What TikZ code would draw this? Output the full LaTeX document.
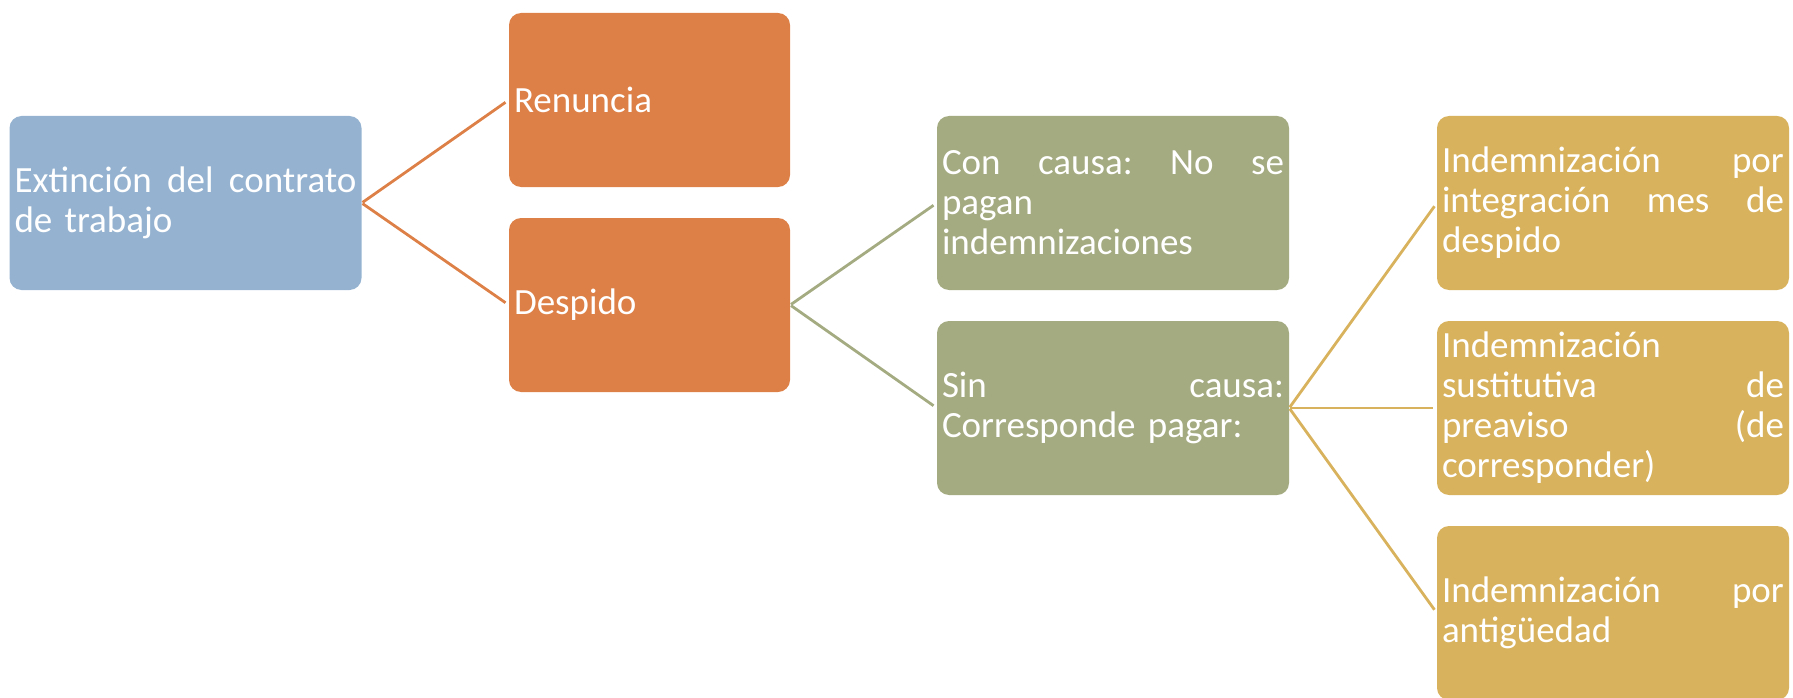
\documentclass[tikz,border=0pt]{standalone}
\usepackage{fontspec}
\setmainfont{Carlito}
\definecolor{blueF}{HTML}{95B3D1}
\definecolor{orangeF}{HTML}{DD8047}
\definecolor{greenF}{HTML}{A5AB81}
\definecolor{yellowF}{HTML}{D8B25C}
\begin{document}
\begin{tikzpicture}[x=1pt,y=-1pt,
  box/.style={rectangle, rounded corners=12pt, minimum height=174pt, inner xsep=5pt, inner ysep=0pt,
    align=left, text=white, font=\fontsize{37}{40}\selectfont, text width=342pt},
  link/.style={line width=2.8pt, shorten >=4pt, shorten <=1pt}]
\useasboundingbox (0,0) rectangle (1793,698);
\node[box, fill=blueF] (ext) at (185.5,203) {Extinción\hfill del\hfill contrato\\de trabajo};
\node[box, fill=orangeF, text width=271pt] (ren) at (649.5,100) {Renuncia};
\node[box, fill=orangeF, text width=271pt] (des) at (649.5,305) {Despido};
\node[box, fill=greenF] (con) at (1113,203) {Con\hfill causa:\hfill No\hfill se\\pagan\\indemnizaciones};
\node[box, fill=greenF] (sin) at (1113,408) {Sin\hfill causa:\\Corresponde pagar:};
\node[box, fill=yellowF] (ya) at (1613,203) {Indemnización\hfill por\\integración\hfill mes\hfill de\\despido};
\node[box, fill=yellowF] (yb) at (1613,408) {Indemnización\\sustitutiva\hfill de\\preaviso\hfill (de\\corresponder)};
\node[box, fill=yellowF] (yc) at (1613,613) {Indemnización\hfill por\\antigüedad};
\draw[link, orangeF] (ext.east) -- (ren.west);
\draw[link, orangeF] (ext.east) -- (des.west);
\draw[link, greenF] (des.east) -- (con.west);
\draw[link, greenF] (des.east) -- (sin.west);
\draw[link, yellowF] (sin.east) -- (ya.west);
\draw[link, yellowF] (sin.east) -- (yb.west);
\draw[link, yellowF] (sin.east) -- (yc.west);
\end{tikzpicture}
\end{document}
